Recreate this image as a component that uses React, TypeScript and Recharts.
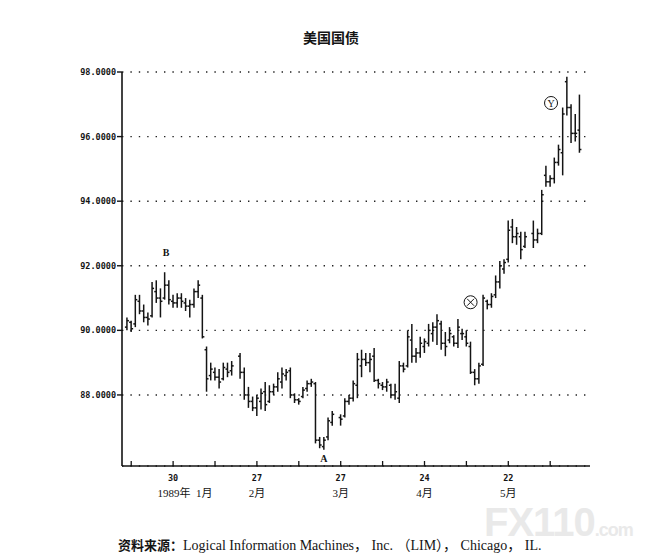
import React from 'react';
import { ComposedChart, Bar, XAxis, YAxis, CartesianGrid, ReferenceDot } from 'recharts';

// trading-day index (0 = 16 Jan 1989); holidays 25, 49, 95 have no bar
const DAY_INDEX = [
  -1, 0, 1, 2, 3, 4, 5, 6, 7, 8, 9, 10, 11, 12, 13, 14, 15, 16, 17, 18, 19, 20, 21, 22, 23, 24,
  26, 27, 28, 29, 30, 31, 32, 33, 34, 35, 36, 37, 38, 39, 40, 41, 42, 43, 44, 45, 46, 47, 48,
  50, 51, 52, 53, 54, 55, 56, 57, 58, 59, 60, 61, 62, 63, 64, 65, 66, 67, 68, 69, 70, 71, 72, 73,
  74, 75, 76, 77, 78, 79, 80, 81, 82, 83, 84, 85, 86, 87, 88, 89, 90, 91, 92, 93, 94,
  96, 97, 98, 99, 100, 101, 102, 103, 104, 105, 106, 107,
];

const HIGH = [
  90.4, 90.3, 91.1, 91.1, 90.8, 90.55, 91.5, 91.55, 91.3, 91.8, 91.55, 91.1, 91.15, 91.15, 91.0, 90.95, 91.3, 91.55, 91.1, 89.5, 89.0, 88.85, 88.8, 89.0, 89.0, 89.05,
  89.3, 88.85, 88.25, 87.95, 88.0, 88.2, 88.4, 88.3, 88.35, 88.7, 88.85, 88.8, 88.85, 88.05, 87.9, 88.25, 88.45, 88.5, 88.4, 86.7, 86.7, 87.3, 87.5,
  87.4, 87.9, 88.0, 88.45, 89.3, 89.4, 89.3, 89.3, 89.45, 88.5, 88.4, 88.5, 88.35, 88.35, 89.05, 89.0, 90.0, 90.2, 89.45, 89.8, 89.75, 90.2, 90.25, 90.5,
  90.3, 89.95, 90.1, 89.85, 90.35, 90.05, 90.0, 89.65, 88.8, 89.0, 91.1, 90.95, 91.15, 91.7, 92.15, 92.2, 93.4, 93.45, 93.2, 93.05, 93.05,
  93.4, 93.15, 94.35, 95.1, 94.8, 95.35, 95.75, 96.9, 97.85, 97.0, 96.7, 97.3,
];

const LOW = [
  90.0, 89.95, 90.1, 90.5, 90.25, 90.15, 90.4, 90.85, 90.4, 90.95, 90.8, 90.7, 90.7, 90.7, 90.6, 90.4, 90.7, 91.0, 89.75, 88.1, 88.45, 88.45, 88.2, 88.45, 88.55, 88.6,
  88.5, 87.85, 87.6, 87.5, 87.35, 87.55, 87.5, 87.75, 88.0, 88.1, 88.2, 88.45, 87.9, 87.75, 87.7, 87.9, 88.1, 88.25, 86.5, 86.35, 86.3, 86.6, 87.05,
  87.05, 87.3, 87.7, 87.8, 87.9, 88.55, 88.9, 88.7, 88.4, 88.2, 88.15, 88.1, 87.9, 87.85, 87.75, 88.7, 88.85, 89.0, 89.0, 89.15, 89.3, 89.5, 89.65, 89.55,
  89.4, 89.2, 89.6, 89.5, 89.45, 89.7, 89.5, 88.65, 88.3, 88.35, 88.9, 90.65, 90.7, 91.0, 91.3, 91.75, 92.1, 92.7, 92.65, 92.2, 92.55,
  92.55, 92.7, 92.95, 94.45, 94.45, 94.55, 95.1, 94.8, 96.65, 95.8, 95.85, 95.5,
];

const OPEN = [
  90.1, 90.25, 90.2, 90.9, 90.6, 90.4, 90.45, 91.2, 91.0, 91.0, 91.4, 90.9, 90.85, 91.0, 90.85, 90.75, 90.8, 91.2, 91.0, 89.4, 88.6, 88.7, 88.55, 88.5, 88.8, 88.75,
  89.2, 88.7, 88.0, 87.8, 87.6, 87.8, 88.1, 87.8, 88.1, 88.25, 88.4, 88.6, 88.75, 88.0, 87.85, 87.95, 88.2, 88.35, 88.35, 86.6, 86.4, 86.7, 87.15,
  87.3, 87.35, 87.8, 87.9, 88.3, 88.9, 89.1, 89.0, 89.2, 88.45, 88.3, 88.25, 88.3, 88.0, 87.9, 88.9, 88.9, 89.7, 89.2, 89.3, 89.5, 89.6, 89.9, 90.1,
  90.2, 89.6, 89.7, 89.8, 89.6, 89.9, 89.8, 89.5, 88.7, 88.5, 88.95, 90.9, 90.8, 91.1, 91.5, 91.9, 92.2, 93.2, 92.9, 92.9, 92.6,
  93.0, 92.8, 93.0, 94.8, 94.6, 94.7, 95.2, 95.5, 97.7, 96.9, 96.1, 96.2,
];

const CLOSE = [
  90.3, 90.05, 90.95, 90.6, 90.4, 90.35, 91.3, 91.0, 90.9, 91.4, 90.95, 90.85, 91.0, 90.9, 90.75, 90.8, 91.2, 91.4, 89.8, 88.5, 88.8, 88.55, 88.4, 88.85, 88.7, 88.9,
  88.7, 88.0, 87.8, 87.6, 87.9, 88.05, 87.7, 88.1, 88.25, 88.5, 88.65, 88.7, 88.0, 87.85, 87.8, 88.15, 88.35, 88.4, 86.6, 86.45, 86.6, 87.2, 87.4,
  87.25, 87.8, 87.9, 88.35, 89.1, 89.1, 89.0, 89.1, 88.45, 88.35, 88.25, 88.4, 88.0, 88.1, 88.9, 88.8, 89.8, 89.2, 89.3, 89.6, 89.65, 90.0, 90.1, 90.3,
  89.6, 89.5, 89.9, 89.6, 90.1, 89.9, 89.6, 88.7, 88.5, 88.9, 91.0, 90.8, 91.05, 91.5, 92.0, 92.1, 93.1, 92.9, 93.0, 92.5, 92.9,
  92.8, 93.0, 94.2, 94.6, 94.7, 95.2, 95.6, 96.7, 96.9, 96.1, 96.1, 95.6,
];

const PRICE_TICKS = [88, 90, 92, 94, 96, 98];
const DAY_TICKS = [0, 10, 20, 30, 40, 50, 60, 70, 80, 90, 100];
const DAY_LABELS: Record<number, string> = { 10: '30', 30: '27', 50: '27', 70: '24', 90: '22' };
const MONTH_LABELS: Record<number, string> = { 10: '1989年  1月', 30: '2月', 50: '3月', 70: '4月', 90: '5月' };

const data = DAY_INDEX.map((d, k) => ({
  d,
  hl: [LOW[k], HIGH[k]],
  o: OPEN[k],
  c: CLOSE[k],
}));

const INK = '#141414';

const OhlcBar = (props: any) => {
  const { x, y, width, height, payload } = props;
  if (payload == null || height == null) return null;
  const top = height < 0 ? y + height : y;
  const h = Math.abs(height);
  const [lo, hi] = payload.hl;
  const span = hi - lo || 1;
  const cx = x + width / 2;
  const yo = top + ((hi - payload.o) / span) * h;
  const yc = top + ((hi - payload.c) / span) * h;
  return (
    <g stroke={INK} strokeWidth={1.5}>
      <line x1={cx} x2={cx} y1={top} y2={top + h} />
      <line x1={cx - 2} x2={cx} y1={yo} y2={yo} />
      <line x1={cx} x2={cx + 2} y1={yc} y2={yc} />
    </g>
  );
};

const DayTick = (props: any) => {
  const { x, y, payload } = props;
  const v = payload.value;
  return (
    <g>
      <line x1={x} x2={x} y1={y} y2={y - 5} stroke={INK} strokeWidth={1.3} />
      {DAY_LABELS[v] && (
        <text x={x} y={y + 15} textAnchor="middle" fontSize={8.5} fontWeight="bold"
          fontFamily="'DejaVu Sans Mono', monospace" fill={INK}>
          {DAY_LABELS[v]}
        </text>
      )}
      {MONTH_LABELS[v] && (
        <text x={v === 10 ? x + 12 : x} y={y + 31} textAnchor="middle" fontSize={11}
          fontFamily="'Liberation Serif', 'Noto Sans CJK SC', serif" fill={INK} style={{ whiteSpace: 'pre' }}>
          {MONTH_LABELS[v]}
        </text>
      )}
    </g>
  );
};

const Letter = (label: string) => (props: any) => (
  <text x={props.cx} y={props.cy} textAnchor="middle" fontSize={10} fontWeight="bold"
    fontFamily="'Liberation Serif', serif" fill={INK}>
    {label}
  </text>
);

const CircledMark = (kind: 'x' | 'y') => (props: any) => {
  const { cx, cy } = props;
  return (
    <g stroke={INK} fill="none" strokeWidth={1}>
      <circle cx={cx} cy={cy} r={6.5} />
      {kind === 'x' ? (
        <g>
          <line x1={cx - 3.5} y1={cy - 3.5} x2={cx + 3.5} y2={cy + 3.5} />
          <line x1={cx - 3.5} y1={cy + 3.5} x2={cx + 3.5} y2={cy - 3.5} />
        </g>
      ) : (
        <text x={cx} y={cy + 3.5} textAnchor="middle" fontSize={10} stroke="none" fill={INK}
          fontFamily="'Liberation Serif', serif">Y</text>
      )}
    </g>
  );
};

export default function App() {
  return (
    <div style={{ position: 'absolute', left: 0, top: 0, width: 658, height: 560, background: '#fff', overflow: 'hidden' }}>
      <div style={{ position: 'absolute', left: 0, width: 658, top: 27, textAlign: 'center', paddingLeft: 2,
        fontFamily: "'Noto Sans CJK SC', sans-serif", fontWeight: 'bold', fontSize: 14, color: INK }}>
        美国国债
      </div>
      <div style={{ position: 'absolute', left: 484, top: 506, color: '#e9e9e9', fontFamily: "'Liberation Sans', sans-serif",
        fontWeight: 'bold', whiteSpace: 'nowrap', letterSpacing: -1, lineHeight: '32px' }}>
        <span style={{ fontSize: 40 }}>FX110</span>
        <span style={{ fontSize: 18 }}>.com</span>
      </div>
      <ComposedChart width={658} height={560} data={data}
        margin={{ top: 72, right: 68, bottom: 54, left: 60 }}>
        <CartesianGrid vertical={false} stroke="#222" strokeWidth={1.4} strokeDasharray="1.4 7" />
        <XAxis dataKey="d" type="number" domain={[-2.2, 109.5]} ticks={DAY_TICKS}
          allowDataOverflow height={40} tickSize={0} tickMargin={0} tickLine={false}
          axisLine={{ stroke: INK, strokeWidth: 1.5 }} tick={<DayTick />} interval={0} />
        <YAxis type="number" domain={[85.8, 98]} ticks={PRICE_TICKS} allowDataOverflow
          width={62} tickSize={5} tickMargin={1}
          tickFormatter={(v: number) => v.toFixed(4)}
          axisLine={{ stroke: INK, strokeWidth: 1.6 }} tickLine={{ stroke: INK, strokeWidth: 1.4 }}
          tick={{ fontSize: 8.5, fontWeight: 'bold', fill: INK, fontFamily: "'DejaVu Sans Mono', monospace" }} />
        <Bar dataKey="hl" barSize={4} shape={<OhlcBar />} isAnimationActive={false} />
        <ReferenceDot x={8.3} y={92.3} r={0} shape={Letter('B')} ifOverflow="visible" />
        <ReferenceDot x={46} y={85.93} r={0} shape={Letter('A')} ifOverflow="visible" />
        <ReferenceDot x={81} y={90.87} r={6} shape={CircledMark('x')} ifOverflow="visible" />
        <ReferenceDot x={100.2} y={97.04} r={6} shape={CircledMark('y')} ifOverflow="visible" />
      </ComposedChart>
      <div style={{ position: 'absolute', left: 118, top: 534, whiteSpace: 'nowrap', color: INK, fontSize: 13 }}>
        <span style={{ fontFamily: "'Noto Sans CJK SC', sans-serif", fontWeight: 'bold' }}>资料来源：</span>
        <span style={{ fontFamily: "'Liberation Serif', 'Noto Sans CJK SC', serif", fontSize: 14 }}>
          Logical Information Machines， Inc. （LIM）， Chicago， IL.
        </span>
      </div>
    </div>
  );
}
